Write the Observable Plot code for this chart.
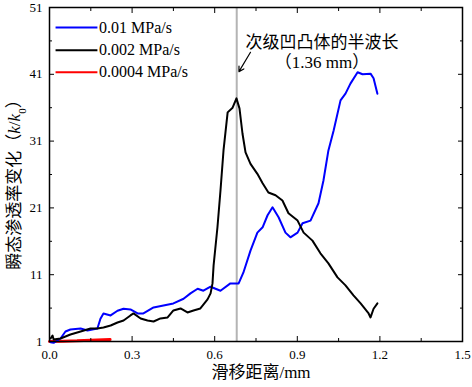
<!DOCTYPE html>
<html><head><meta charset="utf-8">
<script src="https://cdn.jsdelivr.net/npm/d3@7"></script>
<script src="https://cdn.jsdelivr.net/npm/@observablehq/plot@0.6"></script>
<style>body{margin:0;background:#fff}</style>
</head><body><div id="chart"></div>
<script>
const blueX = [0.004,0.015,0.040,0.058,0.076,0.113,0.138,0.174,0.185,0.196,0.222,0.247,0.269,0.294,0.320,0.341,0.378,0.414,0.450,0.487,0.512,0.538,0.559,0.585,0.621,0.657,0.687,0.704,0.730,0.755,0.774,0.792,0.810,0.832,0.857,0.875,0.901,0.919,0.948,0.977,0.995,1.013,1.032,1.057,1.075,1.093,1.119,1.137,1.166,1.177,1.191];
const blueY = [0.9,0.8,1.45,2.5,2.8,2.95,2.65,2.95,4.4,5.2,4.9,5.6,5.9,5.8,5.2,5.2,6.1,6.4,6.7,7.4,8.2,8.9,8.6,9.2,8.6,9.7,9.7,11.3,14.6,17.3,18.1,19.9,21.1,19.6,17.3,16.6,17.3,18.7,19.1,21.7,25.1,29.6,32.6,37.1,38.1,39.6,41.3,41.0,41.1,40.4,38.1];
const blackX = [0.004,0.011,0.015,0.040,0.076,0.113,0.149,0.174,0.196,0.222,0.247,0.269,0.294,0.305,0.331,0.356,0.378,0.403,0.429,0.450,0.476,0.501,0.523,0.548,0.574,0.585,0.592,0.596,0.610,0.621,0.632,0.647,0.665,0.679,0.690,0.701,0.712,0.730,0.755,0.774,0.795,0.821,0.846,0.868,0.901,0.923,0.955,0.984,1.013,1.046,1.075,1.104,1.130,1.159,1.166,1.177,1.191];
const blackY = [1.45,1.9,1.3,1.45,2.05,2.5,2.95,2.95,3.1,3.4,3.85,4.15,4.9,5.2,4.45,4.15,4.0,4.45,4.6,5.65,5.95,5.35,5.65,5.95,7.3,8.2,9.7,12.4,18.1,23.6,29.6,35.3,36.0,37.4,35.9,32.1,29.3,27.6,26.1,24.7,23.3,22.9,22.1,20.2,19.1,17.3,16.1,14.2,12.7,10.6,9.4,7.9,6.7,5.2,4.6,5.9,6.7];
const redX = [0,0.05,0.1,0.15,0.22];
const redY = [1.0,1.05,1.1,1.2,1.3];

const seriesNames = ["0.01 MPa/s","0.002 MPa/s","0.0004 MPa/s"];
const seriesColors = ["#0000ff","#000000","#ff0000"];

const xMajor = [0,0.3,0.6,0.9,1.2,1.5];
const xMinor = [0.15,0.45,0.75,1.05,1.35];
const yMajor = [1,11,21,31,41,51];
const yMinor = [6,16,26,36,46];

const halfWave = 0.68;
const annoLines = ["次级凹凸体的半波长","（1.36 mm）"];
const annoX = [0.99,0.99];
const annoY = [45.8,42.8];
const arrowFrom = [0.730,44.3];
const arrowTo = [0.688,41.4];
const legendX1 = 0.022, legendX2 = 0.174, legendTextX = 0.180;
const legendY = [48.0,44.6,41.3];

const xLabel = "滑移距离/mm";
const yLabel = "瞬态渗透率变化（k/k0）";

const zip = (xs, ys) => xs.map((x, i) => ({x, y: ys[i]}));
const legend = seriesNames.map((name, i) => ({name, color: seriesColors[i], y: legendY[i]}));
const anno = annoLines.map((t, i) => ({t, x: annoX[i], y: annoY[i]}));
const blank = () => "";

const chart = Plot.plot({
  width: 472, height: 387,
  marginLeft: 49, marginRight: 10, marginTop: 7, marginBottom: 46,
  style: {fontFamily: '"Liberation Serif","Noto Sans CJK SC",serif', fontSize: "13px", color: "#000", background: "#fff"},
  x: {domain: [0, 1.5]},
  y: {domain: [1, 51]},
  marks: [
    Plot.ruleX([halfWave], {stroke: "#b4b4b4", strokeWidth: 2}),
    Plot.line(zip(redX, redY), {x: "x", y: "y", stroke: seriesColors[2], strokeWidth: 3}),
    Plot.line(zip(blueX, blueY), {x: "x", y: "y", stroke: seriesColors[0], strokeWidth: 2}),
    Plot.line(zip(blackX, blackY), {x: "x", y: "y", stroke: seriesColors[1], strokeWidth: 2}),
    Plot.frame({stroke: "#000", strokeWidth: 1.5}),
    Plot.axisX({ticks: xMajor, tickSize: -5, tickPadding: 13, tickFormat: d => d.toFixed(1), label: null, fontSize: 13}),
    Plot.axisX({ticks: xMinor, tickSize: -3, tickFormat: blank, label: null}),
    Plot.axisX({ticks: xMajor, anchor: "top", tickSize: -5, tickFormat: blank, label: null}),
    Plot.axisX({ticks: xMinor, anchor: "top", tickSize: -3, tickFormat: blank, label: null}),
    Plot.axisY({ticks: yMajor, tickSize: -5, tickPadding: 12, label: null, fontSize: 13}),
    Plot.axisY({ticks: yMinor, tickSize: -3, tickFormat: blank, label: null}),
    Plot.axisY({ticks: yMajor, anchor: "right", tickSize: -5, tickFormat: blank, label: null}),
    Plot.axisY({ticks: yMinor, anchor: "right", tickSize: -3, tickFormat: blank, label: null}),
    Plot.link(legend, {x1: () => legendX1, x2: () => legendX2, y1: "y", y2: "y", stroke: "color", strokeWidth: 2}),
    Plot.text(legend, {x: () => legendTextX, y: "y", text: "name", textAnchor: "start", fontSize: 16}),
    Plot.text(anno, {x: "x", y: "y", text: "t", fontSize: 17}),
    Plot.arrow([0], {x1: () => arrowFrom[0], y1: () => arrowFrom[1], x2: () => arrowTo[0], y2: () => arrowTo[1], stroke: "#000", strokeWidth: 1.2, headLength: 7}),
    Plot.text([xLabel], {frameAnchor: "bottom", textAnchor: "middle", dy: 36, dx: 5, fontSize: 17}),
    Plot.text([yLabel], {frameAnchor: "left", textAnchor: "middle", rotate: -90, dx: -35, dy: 6, fontSize: 17})
  ]
});
document.getElementById("chart").appendChild(chart);
chart.querySelectorAll("text").forEach(t => {
  if (t.textContent === yLabel) {
    t.innerHTML = '瞬态渗透率变化（<tspan font-style="italic">k</tspan>/<tspan font-style="italic">k</tspan><tspan baseline-shift="sub" font-size="11">0</tspan>）';
  }
});
</script></body></html>
